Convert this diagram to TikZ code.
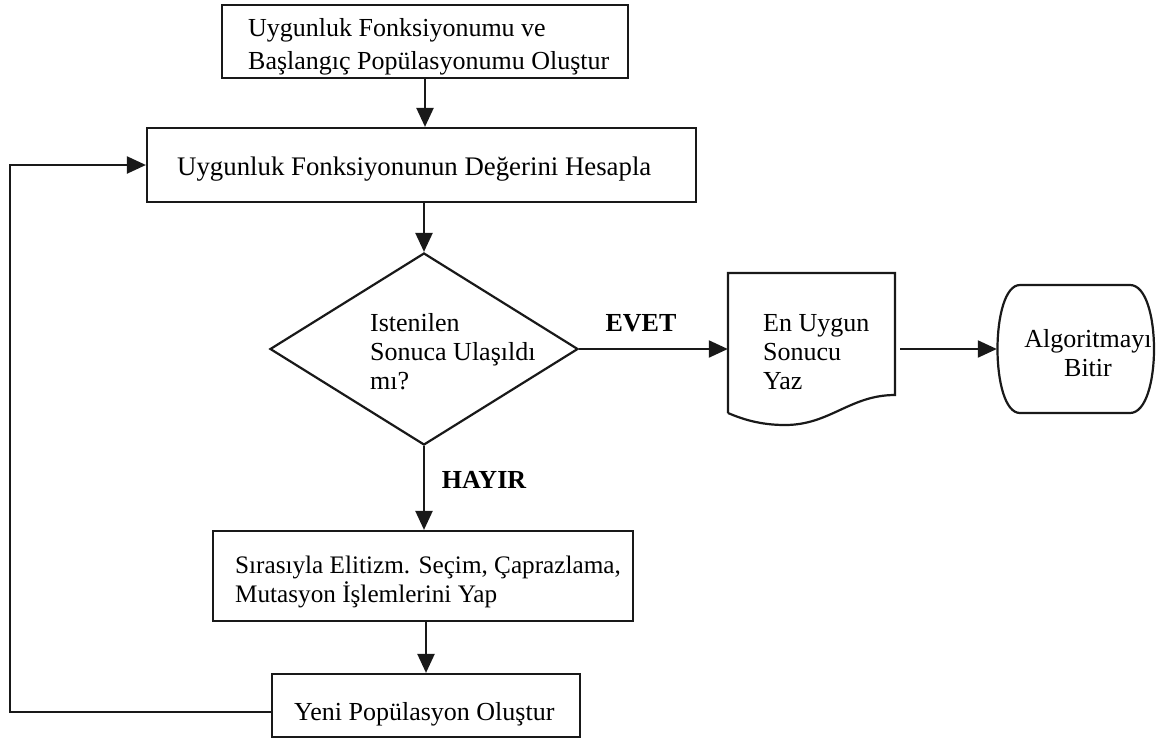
\documentclass[tikz,border=0pt]{standalone}
\usepackage{fontspec}
\setmainfont{Liberation Serif}
\usetikzlibrary{shapes.geometric,arrows.meta}
\begin{document}
\begin{tikzpicture}[x=1pt,y=-1pt,
  line/.style={line width=2.2pt, draw=black!90},
  box/.style={line, rectangle, inner sep=0pt},
  ghost/.style={rectangle, inner sep=0pt},
  arr/.style={line, -{Triangle[length=19pt,width=17pt]}},
  txt/.style={font=\fontsize{26}{29}\selectfont, inner sep=0pt, align=left, anchor=west},
  lbl/.style={font=\fontsize{26}{29}\selectfont\bfseries, inner sep=0pt}]
\useasboundingbox[fill=white] (0,0) rectangle (1162,740);

% boxes
\node[box, minimum width=406pt, minimum height=73pt] (b1) at (425,41.5) {};
\node[box, minimum width=549pt, minimum height=74pt] (b2) at (421.5,165) {};
\node[line, diamond, inner sep=0pt, minimum width=308pt, minimum height=192pt] (d) at (424,349) {};
\node[box, minimum width=420pt, minimum height=90pt] (b3) at (423,576) {};
\node[box, minimum width=308pt, minimum height=63pt] (b4) at (426,705.5) {};
\node[ghost, minimum width=167pt, minimum height=152pt] (doc) at (811.5,349) {};
\node[ghost, minimum width=158pt, minimum height=128pt] (term) at (1076,349) {};

% document shape
\draw[line] (728,413) -- (728,273) -- (895,273) -- (895,395)
  .. controls (850,395) and (830,425) .. (785,425)
  .. controls (760,425) and (742,419) .. (728,413);
% terminal shape
\draw[line] (1020,285) -- (1130,285)
  .. controls (1162,285) and (1162,413) .. (1130,413) -- (1020,413)
  .. controls (990,413) and (990,285) .. (1020,285) -- cycle;

% texts
\node[txt, font=\fontsize{26}{33}\selectfont] at (248,47) {Uygunluk Fonksiyonumu ve\\Başlangıç Popülasyonumu Oluştur};
\node[txt, font=\fontsize{26.8}{29}\selectfont] at (177,169) {Uygunluk Fonksiyonunun Değerini Hesapla};
\node[txt] at (370,352) {Istenilen\\Sonuca Ulaşıldı\\mı?};
\node[txt] at (763,352.5) {En Uygun\\Sonucu\\Yaz};
\node[txt, align=center, anchor=center] at (1088,353.5) {Algoritmayı\\Bitir};
\node[txt, font=\fontsize{25.2}{29}\selectfont] at (235,581.5) {Sırasıyla Elitizm. Seçim, Çaprazlama,\\Mutasyon İşlemlerini Yap};
\node[txt] at (294,714) {Yeni Popülasyon Oluştur};
\node[lbl] at (641,323) {EVET};
\node[lbl] at (484,480) {HAYIR};

% connectors
\coordinate (lp) at (10,0);
\draw[arr] (b1.south) -- (b1.south |- b2.north);
\draw[arr] (d.north |- b2.south) -- (d.north);
\draw[arr] (d.south) -- (d.south |- b3.north);
\draw[arr] (b4.north |- b3.south) -- (b4.north);
\draw[arr] (d.east) -- (doc.west);
\draw[arr] ([xshift=5pt]doc.east) -- (term.west);
\draw[arr] ([yshift=-6.5pt]b4.west) -- ([yshift=-6.5pt]b4.west -| lp) |- (b2.west);
\end{tikzpicture}
\end{document}
